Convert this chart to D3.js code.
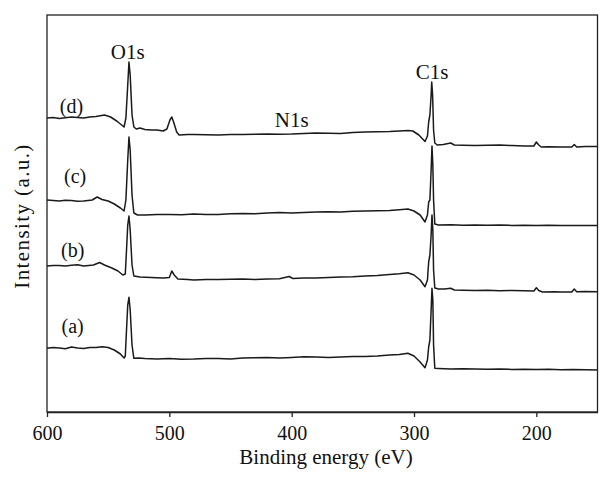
<!DOCTYPE html>
<html>
<head>
<meta charset="utf-8">
<script src="https://cdn.jsdelivr.net/npm/d3@7"></script>
<style>
  body { margin: 0; background: #fff; }
  text { font-family: "Liberation Serif", "DejaVu Serif", serif; fill: #111; }
</style>
</head>
<body>
<div id="chart"></div>
<script>
// Width and height
var w = 612;
var h = 490;
var margin = {top: 15, right: 14.5, bottom: 78, left: 47};

// tick labels on the energy axis
var xTicks = [600, 500, 400, 300, 200];

// spectra: [binding energy (eV), intensity (a.u., offset stacked)]
var specA = [[600,63.7],[595,64.5],[590,64],[585,63.2],[580,65],[575,64],[570,63.5],[565,64.6],[560,64.5],[555,65.3],[550,64.5],
  [545,62],[540,58],[537,54],[536,56],[535,82],[534,107],[533,114.7],[532,102],[530.5,67],[529,53.7],
  [525,54],[520,53.5],[510,53],[500,53.5],[490,52.8],[480,53],[470,53.6],[460,53.5],[450,53],[440,54],[430,54.3],[420,54.5],
  [410,54],[400,54.5],[390,55.2],[380,55],[370,54.6],[360,55],[350,55.6],[340,55.5],[330,56],[320,57],[312,57.5],[305,58.7],
  [300,56],[295,50],[291,44.3],[289,52],[288,65],[287,72],[286,102],[285.3,123.7],[284.6,112],[284,67],[283,43.7],
  [280,43.5],[270,43],[260,43.3],[250,43],[240,42.8],[230,43],[220,42.6],[210,42.8],[200,42.5],[190,42.7],[180,42.3],[170,42.5],[160,42.2],[150,42]];

var specB = [[600,146],[595,146.5],[590,146.5],[585,146],[580,146.8],[575,147.3],[570,146],[566,146.5],[562,147],[557,149.5],[553,147],
  [547,144],[542,141],[538,137],[536,138],[535,162],[534,187],[533,196],[532,182],[530.5,147],[529,136],
  [524,135],[515,134.5],[505,134],[500,134.5],[498,141],[496,137],[493,133],[485,132.5],[480,132],[470,132.6],[460,132.5],[450,132.8],
  [440,133],[430,132.6],[420,133],[410,133.3],[402,135.5],[399,133.5],[390,134],[380,134],[370,134.6],[360,135],[350,135.3],[340,136],
  [330,136.5],[320,137.5],[312,138.3],[305,139.3],[300,137],[295,132],[291,125.3],[289,132],[288,150],[287,157],[286,177],
  [285.3,197],[284.6,182],[284,142],[283,124],[280,123],[275,123],[270,123.7],[267,122],[260,121.8],[250,121.5],[240,121.7],
  [230,121.3],[220,121.5],[210,121.2],[202,121],[200,124.3],[198,121.5],[195,120],[185,120.3],[180,120],[171,120],[169,123],
  [167,120.3],[160,120.5],[150,120.3]];

var specC = [[600,212],[595,211.6],[590,211],[585,211.8],[580,211.5],[575,210.8],[570,211],[563,212],[559,215],[555,212.5],[550,211],
  [545,208],[540,204],[537,201],[535.5,212],[534,252],[533,275],[532,262],[530.5,217],[529,199],
  [526,197],[520,197],[510,197.4],[500,197.5],[490,197.2],[480,198],[470,197.6],[460,197.5],[450,198.2],[440,198.5],[430,198.3],
  [420,199],[410,199.4],[400,199],[390,199.6],[380,200],[370,200.3],[360,200],[350,200.8],[340,201],[330,201.2],[320,201.5],
  [312,202.2],[305,203],[300,201],[295,197],[291,190],[289,197],[288,210],[287,212],[286,242],[285.3,266],[284.6,247],
  [284,212],[283,188],[280,187],[270,187.2],[260,186.8],[250,187],[240,186.7],[230,186.9],[220,186.6],[210,186.8],[200,186.5],
  [190,186.7],[180,186.4],[170,186.6],[160,186.5],[150,186.5]];

var specD = [[600,294],[595,294.6],[590,293.5],[585,294.2],[580,295],[575,294.5],[570,294],[565,295],[560,295.5],[553,297],
  [548,295],[543,291],[539,287],[537,285],[535.5,294],[534,327],[533,350],[532,337],[530.5,297],[529,285],
  [527,283],[524,284],[520,282.5],[515,282],[510,282],[505,281],[502,283],[499.5,292],[498,295],[496.5,290],[494,280],[492,277],
  [485,277.6],[480,277.5],[470,277.2],[460,277],[450,277.6],[440,277.5],[430,277.8],[420,278],[410,277.7],[400,278],
  [390,278.6],[380,279],[370,278.7],[360,278.5],[350,279.4],[340,280],[330,280.2],[320,280.5],[312,281],[305,281.5],
  [301,281],[296,277],[291,270.5],[289,276],[288,290],[287,297],[286,317],[285.5,330],[284.8,317],[284,282],[283,269],
  [281,267],[276,267.5],[270,269],[267,267],[260,266.8],[250,266.5],[240,266.8],[230,267],[220,266.4],[210,266],[202,266],
  [200,270],[198,267],[196,265],[190,265.3],[180,265],[171,265],[169,267.5],[167,265],[160,265.5],[150,265.5]];

var spectra = [specA, specB, specC, specD];

// curve labels: [text, energy, intensity]
var curveLabels = [["(a)", 579, 79], ["(b)", 579, 155], ["(c)", 577, 229], ["(d)", 580, 299]];
// peak labels: [text, energy, intensity]
var peakLabels = [["O1s", 534, 353], ["N1s", 400, 285], ["C1s", 285.3, 333]];

var innerW = w - margin.left - margin.right;
var innerH = h - margin.top - margin.bottom;

var x = d3.scaleLinear().domain([600, 150]).range([0, innerW]);
var y = d3.scaleLinear().domain([0, 397]).range([innerH, 0]);

var svg = d3.select("#chart")
  .append("svg")
  .attr("width", w)
  .attr("height", h);

var g = svg.append("g")
  .attr("transform", "translate(" + margin.left + "," + margin.top + ")");

// frame
g.append("rect")
  .attr("x", 0).attr("y", 0)
  .attr("width", innerW).attr("height", innerH)
  .attr("fill", "none")
  .attr("stroke", "#222")
  .attr("stroke-width", 1.3);

// bottom axis
var xAxis = g.append("g")
  .attr("transform", "translate(0," + innerH + ")")
  .call(d3.axisBottom(x).tickValues(xTicks).tickSize(5).tickSizeOuter(0));
xAxis.select(".domain").attr("stroke", "#222").attr("stroke-width", 1.3);
xAxis.selectAll(".tick line").attr("stroke", "#222").attr("stroke-width", 1.3);
xAxis.selectAll(".tick text")
  .attr("font-family", "Liberation Serif, serif")
  .attr("font-size", "20px")
  .attr("fill", "#111")
  .attr("dy", null)
  .attr("y", 27.5);

// spectra lines
var line = d3.line()
  .x(function(d) { return x(d[0]); })
  .y(function(d) { return y(d[1]); });

g.selectAll(".spec")
  .data(spectra)
  .enter()
  .append("path")
  .attr("class", "spec")
  .attr("d", line)
  .attr("fill", "none")
  .attr("stroke", "#1a1a1a")
  .attr("stroke-width", 1.5)
  .attr("stroke-linejoin", "round");

// curve labels
g.selectAll(".clab")
  .data(curveLabels)
  .enter()
  .append("text")
  .attr("class", "clab")
  .attr("x", function(d) { return x(d[1]); })
  .attr("y", function(d) { return y(d[2]); })
  .attr("text-anchor", "middle")
  .attr("font-size", "20px")
  .text(function(d) { return d[0]; });

// peak labels
g.selectAll(".plab")
  .data(peakLabels)
  .enter()
  .append("text")
  .attr("class", "plab")
  .attr("x", function(d) { return x(d[1]); })
  .attr("y", function(d) { return y(d[2]); })
  .attr("text-anchor", "middle")
  .attr("font-size", "21px")
  .text(function(d) { return d[0]; });

// axis titles
svg.append("text")
  .attr("x", 326)
  .attr("y", 464)
  .attr("text-anchor", "middle")
  .attr("font-size", "21px")
  .text("Binding energy (eV)");

svg.append("text")
  .attr("transform", "translate(29,216) rotate(-90)")
  .attr("text-anchor", "middle")
  .attr("font-size", "21px")
  .attr("letter-spacing", "1.4px")
  .text("Intensity (a.u.)");
</script>
</body>
</html>
